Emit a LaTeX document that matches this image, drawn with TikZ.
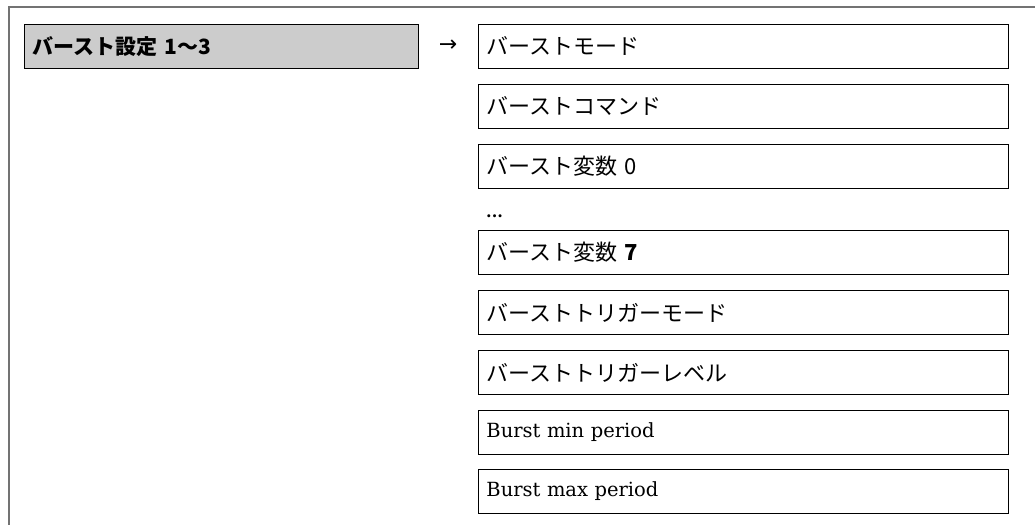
\documentclass[tikz,border=0pt]{standalone}
\usepackage{fontspec}
\setmainfont{DejaVu Serif}
\newfontfamily\jpfont{Noto Sans CJK JP}
\newfontfamily\symfont{DejaVu Sans}
\begin{document}
\begin{tikzpicture}[x=1pt,y=-1pt,
  itembox/.style={draw=black, line width=0.9pt, fill=white, anchor=north west,
    minimum width=530pt, minimum height=44pt, inner xsep=8pt, inner ysep=0pt,
    text width=514pt, align=left, font=\jpfont\fontsize{22}{26}\selectfont},
  latbox/.style={itembox, font=\fontsize{19.5}{23}\selectfont},
  headbox/.style={draw=black, line width=0.9pt, fill=black!20, anchor=north west,
    minimum width=394pt, minimum height=44pt, inner xsep=8pt, inner ysep=0pt,
    text width=378pt, align=left, font=\jpfont\bfseries\fontsize{21}{25}\selectfont},
  frameline/.style={draw=black!55, line width=1.4pt}]
\useasboundingbox (0,0) rectangle (1035,525);
\fill[white] (0,0) rectangle (1035,525);
\coordinate (fTL) at (9,7);
\coordinate (fTR) at (1035,7);
\coordinate (fBL) at (9,525);
\draw[frameline] (fTR) -- (fTL) -- (fBL);
\node[headbox] (head) at (24,24) {バースト設定 1\char"301C 3};
\node[font=\symfont\fontsize{22}{24}\selectfont, inner sep=0pt] (arr) at (448,46) {→};
\node[itembox] (b1) at (478,24) {バーストモード};
\node[itembox] (b2) at (478,84) {バーストコマンド};
\node[itembox] (b3) at (478,144) {バースト変数 0};
\node[anchor=base west, inner sep=0pt, font=\bfseries\fontsize{16}{18}\selectfont] (dots) at (486,217) {...};
\node[itembox] (b4) at (478,230) {バースト変数 \textbf{7}};
\node[itembox] (b5) at (478,290) {バーストトリガーモード};
\node[itembox] (b6) at (478,350) {バーストトリガーレベル};
\node[latbox] (b7) at (478,410) {Burst min period};
\node[latbox] (b8) at (478,469) {Burst max period};
\end{tikzpicture}
\end{document}
